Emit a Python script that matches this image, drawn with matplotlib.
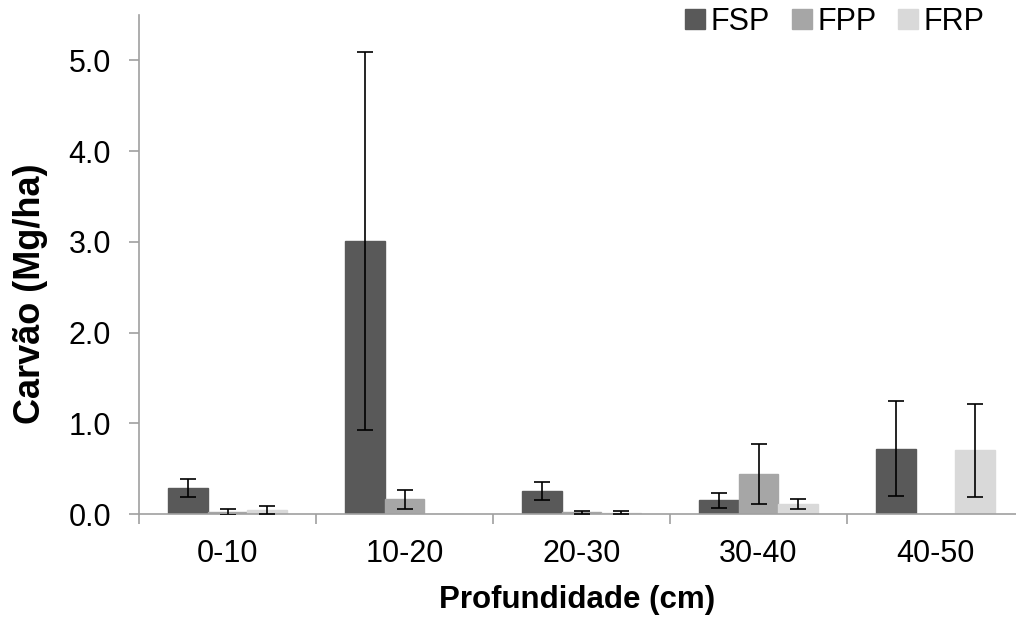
import matplotlib.pyplot as plt
import numpy as np

plt.rcParams.update({
    'font.family': ['Liberation Sans', 'DejaVu Sans'],
    'font.size': 22,
})

categories = ['0-10', '10-20', '20-30', '30-40', '40-50']
series = ['FSP', 'FPP', 'FRP']
fsp = [0.29, 3.01, 0.25, 0.15, 0.72]
fsp_err = [0.10, 2.08, 0.10, 0.08, 0.52]
fpp = [0.02, 0.16, 0.02, 0.44, 0.0]
fpp_err = [0.03, 0.10, 0.015, 0.33, 0.0]
frp = [0.04, 0.0, 0.015, 0.11, 0.70]
frp_err = [0.045, 0.0, 0.02, 0.05, 0.51]

colors = {'FSP': '#595959', 'FPP': '#a6a6a6', 'FRP': '#d9d9d9'}
values = {'FSP': fsp, 'FPP': fpp, 'FRP': frp}
errors = {'FSP': fsp_err, 'FPP': fpp_err, 'FRP': frp_err}

fig = plt.figure(figsize=(10.16, 6.18), dpi=100)
ax = fig.add_axes([139 / 1016, 104 / 618, 877 / 1016, 499 / 618])

x = np.arange(len(categories))
width = 0.225
for i, s in enumerate(series):
    pos = x + (i - 1) * width
    vals = np.array(values[s])
    errs = np.array(errors[s])
    ax.bar(pos, vals, width, color=colors[s], edgecolor=colors[s], zorder=2)
    keep = vals > 0
    ax.errorbar(pos[keep], vals[keep], yerr=errs[keep], fmt='none',
                ecolor='black', elinewidth=1.2, capsize=6, capthick=1.2, zorder=3)

ax.set_xlim(-0.5, 4.5 - 8 / 177)
ax.set_ylim(0, 5.5)
ax.set_yticks(np.arange(0, 5.01, 1.0))
ax.set_yticklabels([f'{v:.1f}' for v in np.arange(0, 5.01, 1.0)])
ax.set_xticks(x)
ax.set_xticklabels(categories)
ax.set_xticks(np.arange(-0.5, 4.5, 1.0), minor=True)
ax.tick_params(axis='x', which='major', length=0, pad=18)
ax.tick_params(axis='x', which='minor', length=7, direction='out', color='#a0a0a0', width=1.2)
ax.tick_params(axis='y', length=7, direction='out', color='#a0a0a0', width=1.2, pad=13)

for sp in ['top', 'right']:
    ax.spines[sp].set_visible(False)
for sp in ['left', 'bottom']:
    ax.spines[sp].set_color('#a0a0a0')
    ax.spines[sp].set_linewidth(1.2)

ax.set_ylabel('Carvão (Mg/ha)', fontweight='bold', fontsize=26)
ax.yaxis.set_label_coords(-0.104, 0.442)
ax.set_xlabel('Profundidade (cm)', fontweight='bold', fontsize=22.5)
ax.xaxis.set_label_coords(0.5, -0.143)

handles = [plt.Line2D([], [], marker='s', linestyle='none', markersize=14,
                      markerfacecolor=colors[s], markeredgecolor=colors[s]) for s in series]
fig.legend(handles, series, loc='upper right', bbox_to_anchor=(0.996, 1.033), ncol=3,
           frameon=False, handletextpad=0.1, columnspacing=0.65, handlelength=0.8,
           fontsize=22)

fig.savefig('out.png', dpi=100)
